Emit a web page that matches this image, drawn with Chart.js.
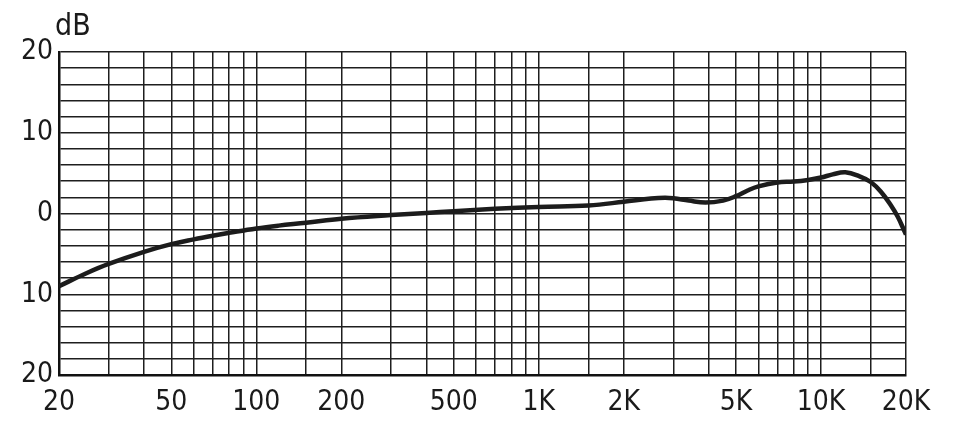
<!DOCTYPE html>
<html>
<head>
<meta charset="utf-8">
<script src="https://cdn.jsdelivr.net/npm/chart.js@4.4.1/dist/chart.umd.min.js"></script>
<style>
  body { margin: 0; background: #fff; }
  #wrap { width: 978px; height: 433px; }
</style>
</head>
<body>
<div id="wrap"><canvas id="chart" width="978" height="433"></canvas></div>
<script>
//frequencies (Hz)
const freqs = [20, 25, 30, 40, 50, 60, 70, 80, 100, 120, 150, 200, 300, 400, 500, 700, 1000, 1500, 2000, 2500, 2800, 3000, 3400, 3900, 4500, 5000, 5500, 6000, 7000, 8000, 9000, 10000, 11000, 12200, 13700, 15000, 16300, 17700, 18700, 19700, 20000];
//response in dB at each frequency
const dbValues = [-9.0, -7.4, -6.25, -4.75, -3.8, -3.2, -2.75, -2.4, -1.85, -1.5, -1.15, -0.65, -0.2, 0.07, 0.28, 0.58, 0.82, 1.0, 1.45, 1.85, 1.95, 1.88, 1.6, 1.35, 1.6, 2.15, 2.85, 3.35, 3.85, 3.95, 4.15, 4.45, 4.85, 5.1, 4.6, 3.9, 2.7, 1.0, -0.4, -2.1, -2.6];

//vertical grid lines
const xGrid = [20, 30, 40, 50, 60, 70, 80, 90, 100, 150, 200, 300, 400, 500, 600, 700, 800, 900, 1000, 1500, 2000, 3000, 4000, 5000, 6000, 7000, 8000, 9000, 10000, 15000, 20000];
//labelled frequencies
const xLabelValues = [20, 50, 100, 200, 500, 1000, 2000, 5000, 10000, 20000];
const xLabelText = ["20", "50", "100", "200", "500", "1K", "2K", "5K", "10K", "20K"];
//horizontal grid lines, every 2 dB
const yGrid = [-20, -18, -16, -14, -12, -10, -8, -6, -4, -2, 0, 2, 4, 6, 8, 10, 12, 14, 16, 18, 20];
//labelled dB values (shown without sign)
const yLabelValues = [20, 10, 0, -10, -20];
const yLabelText = ["20", "10", "0", "10", "20"];

const labelFont = "'Liberation Sans Narrow', 'DejaVu Sans Condensed', sans-serif";
const gridColor = "#1e1e1e";

let points = [];
for (let i = 0; i < freqs.length; i++) {
  points.push({ x: freqs[i], y: dbValues[i] });
}

//"dB" unit over the y axis
const unitLabel = {
  id: "unitLabel",
  afterDraw(chart) {
    const ctx = chart.ctx;
    ctx.save();
    ctx.fillStyle = "#1a1a1a";
    ctx.font = "30px " + labelFont;
    ctx.textAlign = "left";
    ctx.textBaseline = "alphabetic";
    ctx.fillText("dB", chart.chartArea.left - 4, 35);
    ctx.restore();
  },
};

new Chart(document.getElementById("chart"), {
  type: "line",
  data: {
    datasets: [
      {
        data: points,
        borderColor: "#1c1c1c",
        borderWidth: 4.5,
        pointRadius: 0,
        fill: false,
        tension: 0.4,
      },
    ],
  },
  options: {
    responsive: false,
    animation: false,
    layout: { padding: { top: 52, right: 72, left: 0, bottom: 0 } },
    plugins: { legend: { display: false }, tooltip: { enabled: false } },
    scales: {
      x: {
        type: "logarithmic",
        min: 20,
        max: 20000,
        afterBuildTicks: (scale) => {
          scale.ticks = xGrid.map((v) => ({ value: v }));
        },
        afterFit: (scale) => {
          scale.height = 58;
        },
        grid: { color: gridColor, lineWidth: 1.5, drawTicks: false },
        border: { color: "#111", width: 2.5 },
        ticks: {
          autoSkip: false,
          maxRotation: 0,
          padding: 11,
          color: "#1a1a1a",
          font: { family: labelFont, size: 28 },
          callback: (value) => {
            const k = xLabelValues.indexOf(value);
            return k >= 0 ? xLabelText[k] : "";
          },
        },
      },
      y: {
        min: -20,
        max: 20,
        afterBuildTicks: (scale) => {
          scale.ticks = yGrid.map((v) => ({ value: v }));
        },
        afterFit: (scale) => {
          scale.width = 59;
        },
        grid: { color: gridColor, lineWidth: 1.5, drawTicks: false },
        border: { color: "#111", width: 2.5 },
        ticks: {
          autoSkip: false,
          padding: 6,
          color: "#1a1a1a",
          font: { family: labelFont, size: 28 },
          callback: (value) => {
            const k = yLabelValues.indexOf(value);
            return k >= 0 ? yLabelText[k] : "";
          },
        },
      },
    },
  },
  plugins: [unitLabel],
});
</script>
</body>
</html>
